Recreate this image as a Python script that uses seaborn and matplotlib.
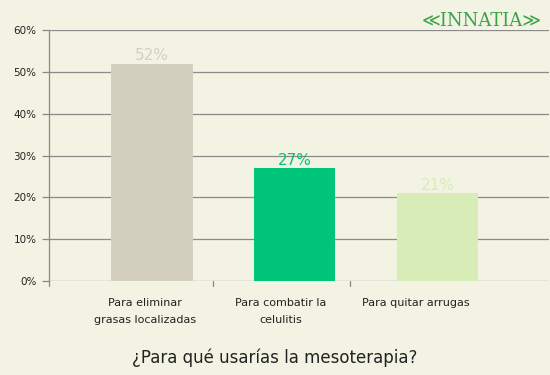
import numpy as np
import pandas as pd
import matplotlib
matplotlib.use("Agg")
import matplotlib.pyplot as plt
import seaborn as sns

# ── Data ──────────────────────────────────────────────
categories = ["Para eliminar\ngrasas localizadas", "Para combatir la\ncelulitis", "Para quitar arrugas"]
values = [52, 27, 21]
bar_colors = ["#d3d0c0", "#00c57a", "#d8ecb8"]
y_ticks = [0, 10, 20, 30, 40, 50, 60]

BG = "#f2f3e2"

sns.set_theme(style="white")
plt.rcParams["font.family"] = ["DejaVu Sans"]

df = pd.DataFrame({"cat": categories, "val": values})

fig = plt.figure(figsize=(5.5, 3.75), dpi=100, facecolor=BG)
ax = fig.add_axes([0.089, 0.2507, 0.909, 0.669])
ax.set_facecolor(BG)

sns.barplot(data=df, x="cat", y="val", hue="cat", palette=bar_colors,
            width=0.57, legend=False, ax=ax, saturation=1, linewidth=0)

# grid
for yt in y_ticks:
    ax.axhline(yt, color="#8a8a8a", linewidth=0.9, zorder=0)

ax.set_xlim(-0.72, 2.78)
ax.set_ylim(0, 60)
ax.set_yticks(y_ticks)
ax.set_yticklabels([f"{v}%" for v in y_ticks], fontsize=7.5, color="#222222")
ax.tick_params(axis="y", length=5, width=0.9, color="#8a8a8a", left=True, pad=4)
ax.tick_params(axis="x", length=0, pad=12)
# labels sit slightly left of the bar centres, as in the original
ax.set_xticks(np.arange(len(categories)) - 0.05 * np.arange(1, len(categories) + 1))
ax.set_xticklabels(categories, fontsize=8, color="#222222", linespacing=1.95, va="top")
ax.set_xlabel("")
ax.set_ylabel("")
for s in ["top", "right", "bottom"]:
    ax.spines[s].set_visible(False)
ax.spines["left"].set_color("#8a8a8a")
ax.spines["left"].set_linewidth(0.9)

# bottom tick marks between categories
for xt in [-0.72, 0.43, 1.39]:
    ax.plot([xt, xt], [0, -1.2], color="#8a8a8a", linewidth=0.9, clip_on=False)

# value labels
for i, (v, c) in enumerate(zip(values, bar_colors)):
    ax.text(i, v + 0.1, f"{v}%", ha="center", va="bottom", fontsize=11, color=c)

fig.text(0.5, 0.045, "¿Para qué usarías la mesoterapia?", ha="center", va="center",
         fontsize=12, color="#222222")

# logo
fig.text(0.876, 0.945, "≪INNATIA≫", ha="center", va="center", fontsize=13,
         color="#3aa34a", family=["DejaVu Serif", "DejaVu Sans"])

fig.savefig("out.png", dpi=100, facecolor=BG)
